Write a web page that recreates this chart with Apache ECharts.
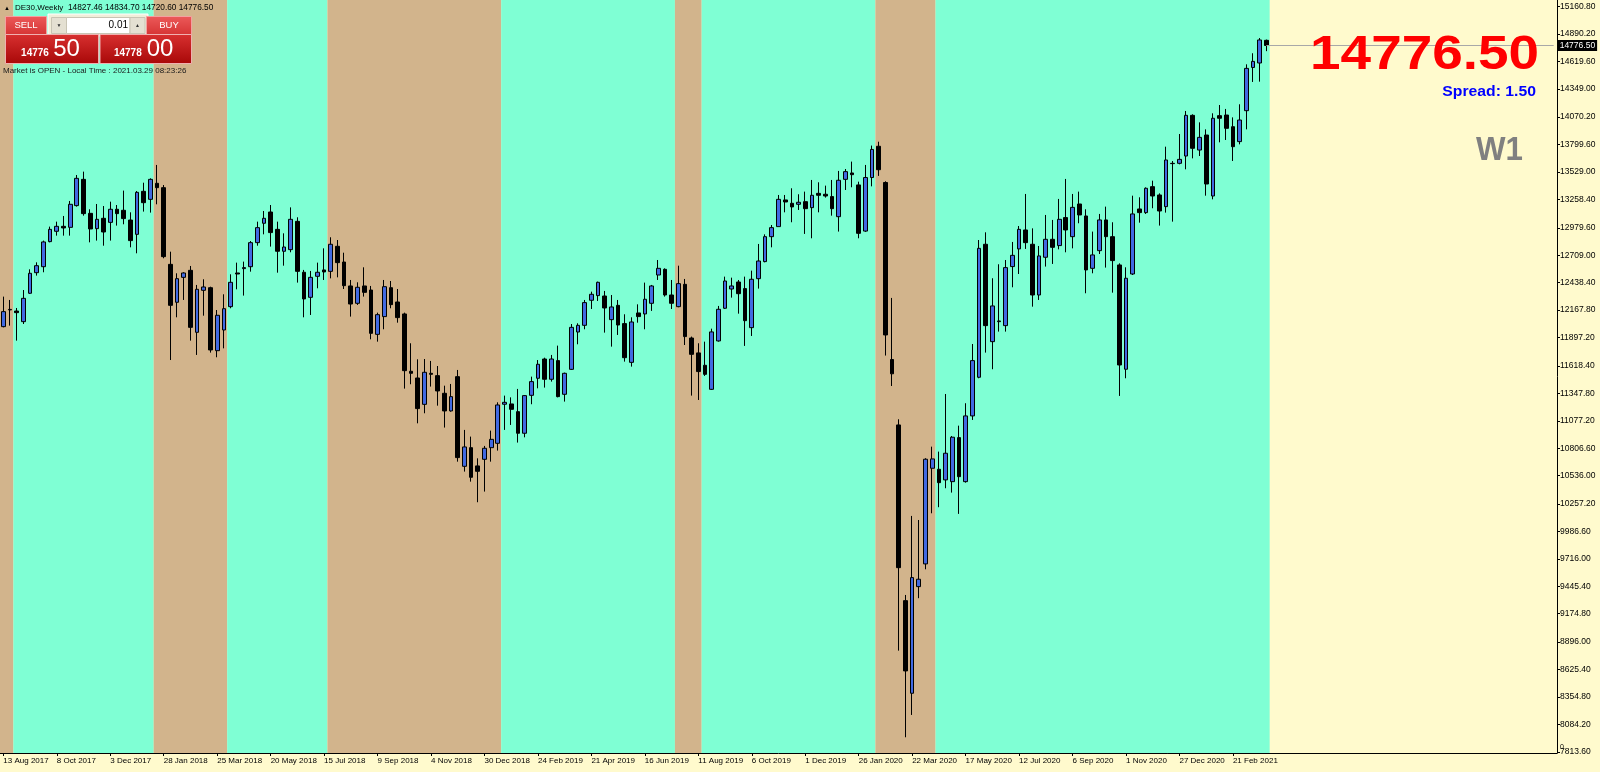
<!DOCTYPE html>
<html><head><meta charset="utf-8">
<script src="https://cdn.jsdelivr.net/npm/echarts@6/dist/echarts.min.js"></script>
<style>html,body{margin:0;padding:0;background:#FFFACD;overflow:hidden}#c{width:1600px;height:772px}</style>
</head><body><div id="c"></div>
<script>
// ---------- data ----------
const symbolTitle = 'DE30,Weekly';
const headerOHLC = '14827.46 14834.70 14720.60 14776.50';
const firstWeek = [2017, 7, 13];          // 13 Aug 2017 (weekly bars, Sunday dated)
const totalSlots = 233;                   // visible weekly slots incl. empty future space
const xTickLabels = ['13 Aug 2017','8 Oct 2017','3 Dec 2017','28 Jan 2018','25 Mar 2018','20 May 2018','15 Jul 2018','9 Sep 2018','4 Nov 2018','30 Dec 2018','24 Feb 2019','21 Apr 2019','16 Jun 2019','11 Aug 2019','6 Oct 2019','1 Dec 2019','26 Jan 2020','22 Mar 2020','17 May 2020','12 Jul 2020','6 Sep 2020','1 Nov 2020','27 Dec 2020','21 Feb 2021'];
const yTicks = [15160.80,14890.20,14619.60,14349.00,14070.20,13799.60,13529.00,13258.40,12979.60,12709.00,12438.40,12167.80,11897.20,11618.40,11347.80,11077.20,10806.60,10536.00,10257.20,9986.60,9716.00,9445.40,9174.80,8896.00,8625.40,8354.80,8084.20,7813.60];
const opens = [12005,12170,12159,12054,12334,12537,12596,12843,12945,12994,12984,13198,13457,13122,12971,13073,13033,13162,13152,13056,12915,13339,13260,13418,13375,12619,12245,12491,12560,11949,12363,12389,11768,11972,12202,12534,12577,12596,12833,13024,13135,12964,12748,12764,13043,12541,12294,12501,12564,12550,12797,12642,12406,12235,12406,12366,11929,12104,12389,12248,12130,11565,11499,11239,11545,11522,11348,11174,11512,10628,10812,10632,10697,10812,10855,11240,11243,11167,10954,11328,11496,11686,11486,11670,11338,11584,11952,12018,12265,12311,12307,12074,12215,12035,11653,12140,12130,12235,12514,12570,12317,12202,12422,11893,11746,11624,11387,11864,12186,12376,12445,12380,11995,12478,12646,12892,12991,13254,13221,13211,13237,13178,13319,13310,13287,13089,13457,13520,13402,12947,13475,13783,13426,11681,11036,9304,8391,9442,9666,10609,10599,10494,10477,10911,10477,11125,11506,12817,11857,12054,12015,12597,12771,12958,12817,12317,12689,12866,12804,13080,12892,13214,13096,12580,12754,13057,12892,12613,11585,12524,13165,13129,13385,13303,13188,13615,13615,13687,14088,13746,13894,13293,14085,14091,13976,13829,14134,14560,14604,14827.46];
const closes = [12153,12175,12143,12284,12531,12606,12840,12964,12994,12978,13211,13467,13119,12968,13063,12938,13162,13119,13070,12853,13329,13227,13457,13375,12695,12215,12478,12534,11998,12373,12396,11775,12117,12182,12442,12524,12587,12833,12981,13073,12932,12748,12790,13063,12550,12278,12491,12541,12544,12817,12636,12409,12228,12393,12343,11939,12123,12399,12222,12094,11571,11545,11197,11555,11535,11371,11174,11315,10714,10819,10520,10579,10806,10894,11233,11259,11190,10954,11325,11463,11634,11486,11686,11315,11545,11998,12018,12242,12324,12442,12189,12199,12021,11699,12051,12104,12275,12406,12580,12317,12235,12429,11907,11732,11562,11535,11953,12176,12455,12406,12330,12064,12472,12652,12892,12981,13260,13234,13185,13231,13168,13300,13300,13293,13168,13448,13533,13503,12925,13475,13752,13552,11923,11540,9629,8611,9531,9515,10698,10701,10467,10757,10915,10526,11125,11670,12777,12015,12209,12061,12587,12708,12964,12833,12317,12702,12866,12787,13063,12958,13181,13106,12564,12712,13057,12892,12656,11627,12482,13116,13129,13369,13293,13145,13648,13612,13654,14088,13763,13871,13411,14059,14059,13960,13779,14042,14551,14620,14831,14776.50];
const lows = [11998,12015,11867,12031,12327,12508,12541,12836,12902,12902,12902,13188,13099,12836,12853,12803,12853,13001,13014,12787,12728,13139,13129,13211,12679,11676,12097,12268,11867,11726,12113,11749,11703,11791,12186,12373,12311,12547,12803,12915,12794,12537,12606,12738,12439,12097,12120,12383,12465,12481,12491,12376,12104,12219,12301,11880,11857,11979,12186,12044,11394,11437,11052,11151,11414,11226,11010,11167,10674,10576,10477,10274,10379,10674,10783,10987,11036,10862,10914,11240,11397,11404,11463,11308,11266,11578,11831,11979,12179,12258,11946,11808,11923,11660,11611,12044,11979,12160,12465,12301,12179,12196,11824,11325,11282,11519,11381,11857,12179,12291,12133,11815,11913,12380,12639,12787,12991,13132,13034,13155,12919,12876,13132,13277,13099,12942,13352,13379,12876,12939,13388,13491,11720,11420,8811,7957,8177,9328,9613,10165,10225,10412,10369,10159,10467,11085,11496,11749,11585,11956,11956,12393,12524,12771,12202,12268,12597,12623,12767,12738,12777,13024,12334,12531,12721,12587,12340,11322,11496,12514,13030,13116,13172,13001,13129,13040,13605,13556,13664,13687,13296,13260,13822,13845,13638,13802,13950,14417,14420,14720.60];
const highs = [12301,12268,12189,12366,12570,12639,12853,12991,13040,13096,13244,13500,13533,13162,13214,13194,13237,13204,13346,13132,13342,13424,13467,13599,13401,12744,12531,12541,12603,12416,12472,12399,12169,12324,12521,12636,12646,12849,13040,13145,13204,13040,12925,13181,13083,12564,12554,12636,12777,12886,12859,12734,12465,12442,12590,12406,12143,12465,12455,12376,12143,11841,11683,11686,11667,11617,11423,11440,11578,10987,10921,10707,10829,10980,11259,11325,11308,11391,11331,11512,11676,11699,11726,11818,11552,12031,12038,12268,12350,12449,12357,12317,12268,12127,12097,12225,12439,12416,12662,12580,12465,12606,12475,11907,11841,11857,11985,12209,12498,12488,12465,12498,12557,12820,12915,13007,13303,13303,13369,13310,13336,13451,13428,13395,13451,13540,13559,13632,13434,13599,13790,13828,13438,12288,11092,9360,10139,10099,10708,10822,10773,11341,10927,11029,11250,11834,12859,12935,12482,12620,12662,12840,12997,13313,12974,12800,13106,13057,13264,13461,13313,13336,13162,12942,13116,13188,13034,12629,12590,13296,13280,13378,13444,13319,13779,13638,13904,14131,14098,14019,13950,14108,14190,14151,14068,14197,14591,14700,14850,14834.70];
// background regime bands: [first week index, last week index, kind]
const bandRuns = [[0,1,'tan'],[2,22,'aqua'],[23,33,'tan'],[34,48,'aqua'],[49,74,'tan'],[75,100,'aqua'],[101,104,'tan'],[105,130,'aqua'],[131,139,'tan'],[140,189,'aqua']];
const lastPrice = 14776.50;
const bidBig = ['14776','50'];
const askBig = ['14778','00'];
const lotText = '0.01';
const spreadText = 'Spread: 1.50';
const tfText = 'W1';
const statusText = 'Market is OPEN - Local Time : 2021.03.29 08:23:26';

// ---------- build ----------
const MON = ['Jan','Feb','Mar','Apr','May','Jun','Jul','Aug','Sep','Oct','Nov','Dec'];
const categories = [];
const t0 = Date.UTC(firstWeek[0], firstWeek[1], firstWeek[2]);
for (let i = 0; i < totalSlots; i++) {
  const d = new Date(t0 + i * 7 * 86400000);
  categories.push(d.getUTCDate() + ' ' + MON[d.getUTCMonth()] + ' ' + d.getUTCFullYear());
}
const candleData = opens.map((o, i) => [o, closes[i], lows[i], highs[i]]);
const Y_MIN = 7802, Y_MAX = 15225;
const BAND_COLORS = { tan: '#D2B48C', aqua: '#7FFFD4' };
const tickShown = (idx) => idx % 8 === 0 && idx / 8 < xTickLabels.length;
const FONT = 'Liberation Sans';

const redGrad = (a, b) => new echarts.graphic.LinearGradient(0, 0, 0, 1, [{offset: 0, color: a}, {offset: 1, color: b}]);

const overlay = [
  // header
  { type: 'text', x: 4, y: 8, style: { text: '▲', fontSize: 6, fill: '#000', verticalAlign: 'middle' } },
  { type: 'text', x: 15, y: 8, style: { text: symbolTitle, fontSize: 8, fontFamily: FONT, fill: '#000', verticalAlign: 'middle' } },
  { type: 'text', x: 68, y: 8, style: { text: headerOHLC, fontSize: 8.3, fontFamily: FONT, fill: '#000', verticalAlign: 'middle' } },
  // one-click panel
  { type: 'rect', shape: { x: 48, y: 14, width: 100, height: 22 }, style: { fill: '#F1EDD9', stroke: '#FFFFFF', lineWidth: 1 } },
  { type: 'rect', shape: { x: 5.5, y: 16.5, width: 41, height: 18 }, style: { fill: redGrad('#EC5A5A', '#D63434'), stroke: '#F4A0A0', lineWidth: 1 } },
  { type: 'text', x: 26, y: 25.5, style: { text: 'SELL', fontSize: 9.5, fontFamily: FONT, fill: '#fff', align: 'center', verticalAlign: 'middle' } },
  { type: 'rect', shape: { x: 146.5, y: 16.5, width: 45, height: 18 }, style: { fill: redGrad('#EC5A5A', '#D63434'), stroke: '#F4A0A0', lineWidth: 1 } },
  { type: 'text', x: 169, y: 25.5, style: { text: 'BUY', fontSize: 9.5, fontFamily: FONT, fill: '#fff', align: 'center', verticalAlign: 'middle' } },
  { type: 'rect', shape: { x: 51.5, y: 17.5, width: 15, height: 16 }, style: { fill: '#E4E0D2', stroke: '#C8C4B4', lineWidth: 1 } },
  { type: 'text', x: 59, y: 25.5, style: { text: '▼', fontSize: 5, fill: '#333', align: 'center', verticalAlign: 'middle' } },
  { type: 'rect', shape: { x: 66.5, y: 17.5, width: 63.5, height: 16 }, style: { fill: '#FFFFFF', stroke: '#C8C4B4', lineWidth: 1 } },
  { type: 'text', x: 128, y: 25.5, style: { text: lotText, fontSize: 10, fontFamily: FONT, fill: '#000', align: 'right', verticalAlign: 'middle' } },
  { type: 'rect', shape: { x: 130, y: 17.5, width: 15, height: 16 }, style: { fill: '#E4E0D2', stroke: '#C8C4B4', lineWidth: 1 } },
  { type: 'text', x: 137.5, y: 25.5, style: { text: '▲', fontSize: 5, fill: '#333', align: 'center', verticalAlign: 'middle' } },
  { type: 'rect', shape: { x: 5.5, y: 34.5, width: 93, height: 29 }, style: { fill: redGrad('#D83030', '#A80808'), stroke: '#F0B0B0', lineWidth: 1 } },
  { type: 'rect', shape: { x: 100, y: 34.5, width: 91.5, height: 29 }, style: { fill: redGrad('#D83030', '#A80808'), stroke: '#F0B0B0', lineWidth: 1 } },
  { type: 'text', x: 35, y: 53.5, style: { text: bidBig[0], fontSize: 10, fontWeight: 'bold', fontFamily: FONT, fill: '#fff', align: 'center', verticalAlign: 'middle' } },
  { type: 'text', x: 66.5, y: 49.5, style: { text: bidBig[1], fontSize: 24, fontFamily: FONT, fill: '#fff', align: 'center', verticalAlign: 'middle' } },
  { type: 'text', x: 127.8, y: 53.5, style: { text: askBig[0], fontSize: 10, fontWeight: 'bold', fontFamily: FONT, fill: '#fff', align: 'center', verticalAlign: 'middle' } },
  { type: 'text', x: 160, y: 49.5, style: { text: askBig[1], fontSize: 24, fontFamily: FONT, fill: '#fff', align: 'center', verticalAlign: 'middle' } },
  { type: 'text', x: 3, y: 70.5, style: { text: statusText, fontSize: 8, fontFamily: FONT, fill: '#1A1A1A', verticalAlign: 'middle' } },
  // right-hand info
  { type: 'text', x: 1539, y: 55, scaleX: 1.12, style: { text: lastPrice.toFixed(2), fontSize: 49, fontWeight: 'bold', fontFamily: FONT, fill: '#FF0000', align: 'right', verticalAlign: 'middle' } },
  { type: 'text', x: 1536, y: 92, scaleX: 1.05, style: { text: spreadText, fontSize: 15, fontWeight: 'bold', fontFamily: FONT, fill: '#0000FF', align: 'right', verticalAlign: 'middle' } },
  { type: 'text', x: 1523, y: 151, scaleX: 0.92, style: { text: tfText, fontSize: 34, fontWeight: 'bold', fontFamily: FONT, fill: '#808080', align: 'right', verticalAlign: 'middle' } },
  { type: 'text', x: 1560, y: 747, style: { text: '0', fontSize: 7, fontFamily: FONT, fill: '#000', verticalAlign: 'middle' } }
].map(el => Object.assign({ z: 100, zlevel: 0, silent: true }, el));

const chart = echarts.init(document.getElementById('c'), null, {renderer: 'canvas'});
chart.setOption({
  animation: false,
  backgroundColor: '#FFFACD',
  grid: { left: 0, top: 0, width: 1557, height: 753, containLabel: false },
  xAxis: {
    type: 'category', data: categories, boundaryGap: true,
    axisLine: { show: true, lineStyle: { color: '#000', width: 1 } },
    axisTick: { show: true, alignWithLabel: true, interval: tickShown, length: 3, lineStyle: { color: '#000' } },
    axisLabel: { interval: tickShown, formatter: (v, idx) => xTickLabels[idx / 8], align: 'left', color: '#000', fontSize: 8, fontFamily: FONT, margin: 4 },
    splitLine: { show: false }
  },
  yAxis: {
    type: 'value', position: 'right', min: Y_MIN, max: Y_MAX,
    axisLine: { show: true, lineStyle: { color: '#000', width: 1 } },
    axisTick: { show: true, customValues: yTicks, length: 3, lineStyle: { color: '#000' } },
    axisLabel: { customValues: yTicks, formatter: (v) => Number(v).toFixed(2), color: '#000', fontSize: 8.5, fontFamily: FONT, margin: 3 },
    splitLine: { show: false }
  },
  series: [
    {
      type: 'custom', silent: true, z: 0,
      data: bandRuns.map(r => [r[0], r[1], r[2] === 'tan' ? 0 : 1]),
      renderItem: function (params, api) {
        const s = api.value(0), e = api.value(1), k = api.value(2);
        const a = api.coord([s, Y_MAX]);
        const b = api.coord([e, Y_MAX]);
        const w = api.size([1, 0])[0];
        const cs = params.coordSys;
        return { type: 'rect', shape: { x: a[0] - w / 2, y: cs.y, width: b[0] - a[0] + w, height: cs.height },
                 style: { fill: k === 0 ? BAND_COLORS.tan : BAND_COLORS.aqua } };
      }
    },
    {
      type: 'candlestick', z: 3, barWidth: 4.2,
      data: candleData,
      itemStyle: { color: '#4169E1', color0: '#000000', borderColor: '#000000', borderColor0: '#000000', borderWidth: 1 },
      markLine: {
        silent: true, animation: false, symbol: ['none', 'none'],
        lineStyle: { color: '#A8A8A8', width: 1, type: 'solid' },
        label: { show: true, position: 'end', distance: 4, formatter: lastPrice.toFixed(2), color: '#fff', backgroundColor: '#000', fontSize: 8.5, fontFamily: FONT, padding: [1, 2, 1, 2] },
        data: [[{ coord: [categories[opens.length - 1], lastPrice] }, { coord: [categories[totalSlots - 1], lastPrice] }]]
      }
    }
  ],
  graphic: { elements: overlay }
});
</script>
</body></html>
